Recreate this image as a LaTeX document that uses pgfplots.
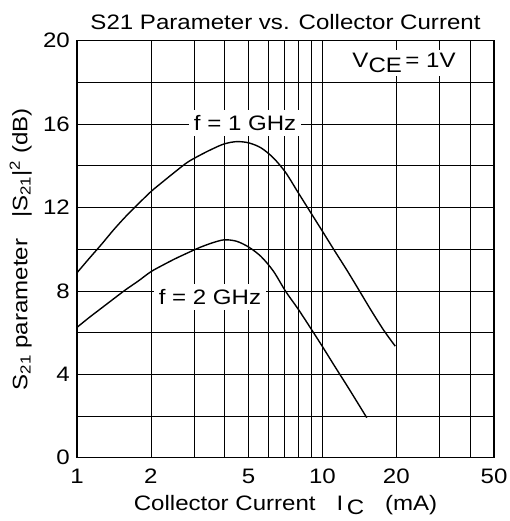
\documentclass[border=0pt]{standalone}
\usepackage{fontspec}
\setmainfont{Liberation Sans}[FakeStretch=1.15]
\usepackage{pgfplots}
\pgfplotsset{compat=1.18}
\begin{document}
\fontsize{21}{25}\selectfont
\begin{tikzpicture}
\useasboundingbox (-77bp,-63.3bp) rectangle (433bp,457.7bp);
\begin{axis}[
  at={(0,0)}, anchor=south west,
  scale only axis, width=417bp, height=417bp,
  xmode=log, xmin=1, xmax=50, ymin=0, ymax=20,
  xtick={1,2,5,10,20,50}, xticklabels={1,2,5,10,20,50},
  minor xtick={3,4,6,7,8,9,30,40},
  ytick={0,4,8,12,16,20}, yticklabels={0,4,8,12,16,20},
  minor ytick={2,6,10,14,18},
  grid=both,
  major grid style={black, line width=0.7pt},
  minor grid style={black, line width=0.7pt},
  major tick length=0pt, minor tick length=0pt,
  axis line style={line width=1.2pt},
  xticklabel style={yshift=-4bp},
  title={S21 Parameter vs. Collector Current},
  title style={yshift=-2bp},
  xlabel={Collector Current\quad I\,\raisebox{-0.3ex}{C}\quad (mA)},
  xlabel style={yshift=2bp},
  ylabel={S\textsubscript{21} parameter\quad |S\textsubscript{21}|\textsuperscript{2} (dB)},
  ylabel style={yshift=-3bp},
]
% f = 1 GHz
\addplot[black, line width=1.4pt, smooth] coordinates {
  (1,8.87) (1.12,9.55) (1.26,10.24) (1.41,10.93) (1.58,11.57)
  (1.78,12.18) (2,12.76) (2.24,13.24) (2.51,13.71) (2.82,14.17)
  (3.16,14.5) (3.55,14.8) (3.98,15.05) (4.47,15.16) (5.01,15.1)
  (5.62,14.86) (6.31,14.38) (7.08,13.68) (7.94,12.74) (8.91,11.8)
  (10,10.86) (11.2,9.93) (12.6,8.98) (14.1,8.03) (15.8,7.06)
  (17.8,6.1) (19.8,5.35)
};
% f = 2 GHz
\addplot[black, line width=1.4pt, smooth] coordinates {
  (1,6.25) (1.12,6.72) (1.26,7.18) (1.41,7.62) (1.58,8.06)
  (1.78,8.48) (2,8.92) (2.24,9.24) (2.51,9.54) (2.82,9.82)
  (3.16,10.08) (3.55,10.3) (3.98,10.45) (4.47,10.38) (5.01,10.1)
  (5.62,9.65) (6.31,8.95) (7.08,7.98) (7.94,7.15) (8.91,6.25)
  (10,5.33) (11.2,4.4) (12.6,3.45) (14.1,2.52) (15.15,1.92)
};
\node[fill=white, inner sep=5bp] at (axis cs:4.84,16.05) {f = 1 GHz};
\node[fill=white, inner sep=5bp] at (axis cs:3.48,7.7) {f = 2 GHz};
\node[fill=white, inner sep=3bp] at (axis cs:21.5,18.93) {V\raisebox{-0.4ex}{CE}\,= 1V};
\end{axis}
\end{tikzpicture}
\end{document}
